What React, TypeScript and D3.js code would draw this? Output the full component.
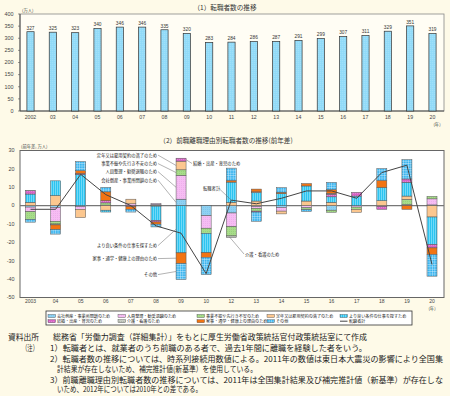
import React from "react";
import * as d3 from "d3";

const years1 = ["2002","03","04","05","06","07","08","09","10","11","12","13","14","15","16","17","18","19","20"];
const transfers = [327,325,323,340,346,346,335,320,283,284,286,287,291,299,307,311,329,351,319];
const yTicks1 = [0,50,100,150,200,250,300,350,400];

const years2 = ["2003","04","05","06","07","08","09","10","12","13","14","15","16","17","18","19","20"];
const bankrupt  = [-0.8,-1,-0.5,0,0,0.6,3.5,-5.5,-4,-0.5,-1,0,-2.5,0,0,0,0.4];
const layoff    = [-2.5,-7.5,-1.5,0.3,1,0.5,13,-6.8,-7.5,-1,-2,-1.2,0,-0.8,-0.5,0.6,3.3];
const business  = [-4.2,-1.5,0,1.2,0,0,3,-2.8,-5,-1.5,0,-1,-1.1,-1.2,0,2.8,1.3];
const retire    = [1.8,5.5,-4.5,-2.5,2.5,-0.3,4.7,0,1.8,2.5,-1.5,2.5,1.8,-1.6,2.7,1.8,-6.2];
const better    = [4.5,8,17,-1,0,-7.8,-25.7,-10.5,11,4.5,6.5,8.2,3,5.2,7.2,7.5,-15];
const marriage  = [1.8,0,0.5,1.2,-0.5,-0.8,1.6,0,0,-0.5,0,0,1.4,2,-1.5,1.8,-1.8];
const care      = [0.2,-0.5,0,0,0,0,0,0,-0.8,0.5,0,0,0.5,0,0,0,0];
const housework = [0,-2.5,1.5,4.8,-1.5,-1.2,-5.8,-2.5,0.9,1.5,0.8,1.3,2,0,3.8,-2,-3.6];
const other     = [-1.5,-2.5,5,2.5,-1.5,-1.5,-8.7,-9.4,6.7,-5,2.5,-1,4,0,6.5,10.5,-11.8];
const totalDiff = [-2,-2,17,6,0,-11,-15,-37,3,1,4,8,8,4,18,22,-32];
const yTicks2 = [30,20,10,0,-10,-20,-30,-40,-50];

const keys = ["bankrupt","layoff","business","retire","better","marriage","care","housework","other"];
const seriesData: Record<string, number[]> = { bankrupt, layoff, business, retire, better, marriage, care, housework, other };
const names: Record<string, string> = {
  bankrupt: "会社倒産・事業所閉鎖のため",
  layoff: "人員整理・勧奨退職のため",
  business: "事業不振や先行き不安のため",
  retire: "定年又は雇用契約の満了のため",
  better: "より良い条件の仕事を探すため",
  marriage: "結婚・出産・育児のため",
  care: "介護・看護のため",
  housework: "家事・通学・健康上の理由のため",
  other: "その他",
};
const lineName = "転職者計";
const fills: Record<string, string> = {
  bankrupt: "url(#pBank)",
  layoff: "url(#pLayoff)",
  business: "url(#pBus)",
  retire: "#fcc78f",
  better: "url(#pBetter)",
  marriage: "url(#pMar)",
  care: "url(#pCare)",
  housework: "#f27413",
  other: "url(#pOther)",
};

const notes = [
  "総務省「労働力調査（詳細集計）」をもとに厚生労働省政策統括官付政策統括室にて作成",
  "1）転職者とは、就業者のうち前職のある者で、過去1年間に離職を経験した者をいう。",
  "2）転職者数の推移については、時系列接続用数値による。2011年の数値は東日本大震災の影響により全国集",
  "計結果が存在しないため、補完推計値(新基準）を使用している。",
  "3）前職離職理由別転職者数の推移については、2011年は全国集計結果及び補完推計値（新基準）が存在しな",
  "いため、2012年については2010年との差である。",
];

const JP = "'Noto Sans CJK JP', 'Noto Sans', sans-serif";
const NUM = "'Liberation Sans', Arial, sans-serif";

export default function App() {
  const W = 450, H = 396;
  // top chart
  const x1 = d3.scalePoint<string>().domain(years1).range([30.5, 432.5]);
  const y1 = d3.scaleLinear().domain([0, 400]).range([111, 14]);
  // bottom chart
  const x2 = d3.scalePoint<string>().domain(years2).range([30.5, 432]);
  const y2 = d3.scaleLinear().domain([-50, 30]).range([297.5, 150.5]);

  const rows = years2.map((y, i) => {
    const r: any = { year: y };
    keys.forEach((k) => (r[k] = seriesData[k][i]));
    return r;
  });
  const stacked = d3.stack<any>().keys(keys).offset(d3.stackOffsetDiverging)(rows);
  const segMid = (key: string, year: string) => {
    const s = stacked.find((ss) => ss.key === key)!;
    const d = s[years2.indexOf(year)];
    return y2((d[0] + d[1]) / 2);
  };
  const bw = 10;
  const lineGen = d3.line<number>().x((_, i) => x2(years2[i])!).y((v) => y2(v));

  const leftAnn = [
    { key: "retire", y: 156.5 },
    { key: "business", y: 165 },
    { key: "layoff", y: 173 },
    { key: "bankrupt", y: 181.5 },
    { key: "better", y: 247 },
    { key: "housework", y: 260 },
    { key: "other", y: 276 },
  ];
  const x09 = x2("09")!;
  const x12 = x2("12")!;
  const i12 = years2.indexOf("12");

  const legendRows = [
    ["bankrupt", "layoff", "business", "retire", "better"],
    ["marriage", "care", "housework", "other", "LINE"],
  ];
  const legendCols = [48, 118, 197, 267, 340];

  return (
    <svg width={W} height={H} style={{ position: "absolute", left: 0, top: 0, background: "#fefae8" }}>
      <defs>
        <pattern id="pTop" width="2" height="2" patternUnits="userSpaceOnUse">
          <rect width="2" height="2" fill="#8fdaf8" />
          <rect x="0.5" y="0.5" width="0.6" height="0.6" fill="#d8f5ff" />
        </pattern>
        <pattern id="pBetter" width="2" height="2" patternUnits="userSpaceOnUse">
          <rect width="2" height="2" fill="#2cc4f0" />
          <rect x="1.2" width="0.5" height="2" fill="#b8efff" />
        </pattern>
        <pattern id="pOther" width="2.4" height="2.4" patternUnits="userSpaceOnUse">
          <rect width="2.4" height="2.4" fill="#3ab4ee" />
          <path d="M0 0.2H2.4M0.2 0V2.4" stroke="#dff6ff" strokeWidth="0.5" />
        </pattern>
        <pattern id="pBank" width="2" height="2" patternUnits="userSpaceOnUse">
          <rect width="2" height="2" fill="#8fd1f2" />
          <rect x="1" y="1" width="0.6" height="0.6" fill="#5fb6e6" />
        </pattern>
        <pattern id="pLayoff" width="2" height="2" patternUnits="userSpaceOnUse">
          <rect width="2" height="2" fill="#f6bdf3" />
          <rect x="1" y="1" width="0.6" height="0.6" fill="#e196e0" />
        </pattern>
        <pattern id="pBus" width="2" height="2" patternUnits="userSpaceOnUse">
          <rect width="2" height="2" fill="#a8dc8a" />
          <rect x="1" y="1" width="0.6" height="0.6" fill="#7cc160" />
        </pattern>
        <pattern id="pMar" width="2" height="2" patternUnits="userSpaceOnUse">
          <rect width="2" height="2" fill="#d763c4" />
          <rect x="1" y="1" width="0.7" height="0.7" fill="#f3a8e8" />
        </pattern>
        <pattern id="pCare" width="2" height="2" patternUnits="userSpaceOnUse">
          <rect width="2" height="2" fill="#c9cdc4" />
          <rect x="1" y="1" width="0.6" height="0.6" fill="#8e968a" />
        </pattern>
      </defs>

      {/* ===== Top chart ===== */}
      <text x={225} y={10} textAnchor="middle" fontFamily={JP} fontSize={6.6} fill="#333">（1）転職者数の推移</text>
      <text x={22} y={12.2} fontFamily={JP} fontSize={4.3} fill="#444">(万人)</text>
      <rect x={20} y={14} width={424} height={97} fill="#fffdf4" stroke="#888" strokeWidth={0.8} />
      <line x1={20} y1={14} x2={20} y2={111} stroke="#444" strokeWidth={0.9} />
      <line x1={20} y1={111} x2={444} y2={111} stroke="#444" strokeWidth={0.9} />
      {yTicks1.map((t) => (
        <g key={t}>
          <line x1={18} x2={20} y1={y1(t)} y2={y1(t)} stroke="#555" strokeWidth={0.6} />
          <text x={13.5} y={y1(t) + 1.8} textAnchor="end" fontFamily={NUM} fontSize={5.4} fill="#444">{t}</text>
        </g>
      ))}
      {years1.map((yr, i) => (
        <g key={yr}>
          <rect x={x1(yr)! - 3.6} y={y1(transfers[i])} width={7.2} height={y1(0) - y1(transfers[i])}
            fill="url(#pTop)" stroke="#333" strokeWidth={0.7} />
          <text x={x1(yr)} y={y1(transfers[i]) - 2.2} textAnchor="middle" fontFamily={NUM} fontSize={4.8} fill="#333">{transfers[i]}</text>
          <text x={x1(yr)} y={118.5} textAnchor="middle" fontFamily={NUM} fontSize={5.2} fill="#444">{yr}</text>
        </g>
      ))}
      <text x={437} y={125.5} textAnchor="middle" fontFamily={JP} fontSize={4.3} fill="#444">(年)</text>

      {/* ===== Bottom chart ===== */}
      <text x={226} y={143} textAnchor="middle" fontFamily={JP} fontSize={6.6} fill="#333">（2）前職離職理由別転職者数の推移(前年差)</text>
      <text x={21} y={148.3} fontFamily={JP} fontSize={4.3} fill="#444">(前年差, 万人)</text>
      <rect x={20} y={150.5} width={424} height={147} fill="#ffffff" stroke="#666" strokeWidth={1} />
      {yTicks2.map((t) => (
        <text key={t} x={14.5} y={y2(t) + 1.8} textAnchor="end" fontFamily={NUM} fontSize={5.4} fill="#444">{t}</text>
      ))}
      <line x1={20} x2={444} y1={y2(0)} y2={y2(0)} stroke="#777" strokeWidth={1.2} />
      {stacked.map((s) =>
        s.map((d, i) => {
          const top = y2(Math.max(d[0], d[1]));
          const h = Math.abs(y2(d[0]) - y2(d[1]));
          if (h < 0.01) return null;
          return (
            <rect key={s.key + i} x={x2(years2[i])! - bw / 2} y={top} width={bw} height={h}
              fill={fills[s.key]} stroke="#555" strokeWidth={0.5} />
          );
        })
      )}
      <path d={lineGen(totalDiff) || ""} fill="none" stroke="#444" strokeWidth={1} />
      {years2.map((yr) => (
        <text key={yr} x={x2(yr)} y={303} textAnchor="middle" fontFamily={NUM} fontSize={5} fill="#444">{yr}</text>
      ))}
      <text x={432} y={309.5} textAnchor="middle" fontFamily={JP} fontSize={4.3} fill="#444">(年)</text>

      {/* annotations */}
      {leftAnn.map((a) => (
        <g key={a.key}>
          <text x={157} y={a.y} textAnchor="end" fontFamily={JP} fontSize={4.3} fill="#222">{names[a.key]}</text>
          <line x1={158} y1={a.y - 1.4} x2={x09 - bw / 2} y2={segMid(a.key, "09")} stroke="#666" strokeWidth={0.5} />
        </g>
      ))}
      <line x1={x09 + bw / 2} y1={segMid("marriage", "09")} x2={192} y2={163.5} stroke="#666" strokeWidth={0.5} />
      <text x={193} y={165} fontFamily={JP} fontSize={4.3} fill="#222">{names.marriage}</text>
      <text x={203} y={190} fontFamily={JP} fontSize={4.3} fill="#222">{lineName}</text>
      <line x1={219} y1={188.5} x2={x12} y2={y2(totalDiff[i12])} stroke="#666" strokeWidth={0.5} />
      <line x1={x12 - 2} y1={segMid("care", "12")} x2={244} y2={254} stroke="#666" strokeWidth={0.5} />
      <text x={245} y={256} fontFamily={JP} fontSize={4.3} fill="#222">{names.care}</text>

      {/* legend */}
      <rect x={46} y={311} width={366} height={14} fill="#ffffff" stroke="#333" strokeWidth={0.8} />
      {legendRows.map((row, ri) =>
        row.map((k, ci) => {
          const lx = legendCols[ci];
          const ly = 316 + ri * 5.2;
          return (
            <g key={k}>
              {k === "LINE" ? (
                <line x1={lx} x2={lx + 7.5} y1={ly} y2={ly} stroke="#444" strokeWidth={1} />
              ) : (
                <rect x={lx} y={ly - 1.5} width={7.5} height={3} fill={fills[k]} stroke="#444" strokeWidth={0.4} />
              )}
              <text x={lx + 9} y={ly + 1.5} fontFamily={JP} fontSize={4.1} fill="#222">{k === "LINE" ? lineName : names[k]}</text>
            </g>
          );
        })
      )}

      {/* notes */}
      <text x={8} y={340} fontFamily={JP} fontSize={8} fill="#222" textLength={31} lengthAdjust="spacingAndGlyphs">資料出所</text>
      <text x={22} y={350.5} fontFamily={JP} fontSize={8} fill="#222" textLength={16} lengthAdjust="spacingAndGlyphs">（注）</text>
      <text x={53} y={340} fontFamily={JP} fontSize={8} fill="#222" textLength={314} lengthAdjust="spacingAndGlyphs">{notes[0]}</text>
      <text x={50} y={350.5} fontFamily={JP} fontSize={8} fill="#222" textLength={317} lengthAdjust="spacingAndGlyphs">{notes[1]}</text>
      <text x={50} y={361.5} fontFamily={JP} fontSize={8} fill="#222" textLength={393} lengthAdjust="spacingAndGlyphs">{notes[2]}</text>
      <text x={57} y={371.5} fontFamily={JP} fontSize={8} fill="#222" textLength={200} lengthAdjust="spacingAndGlyphs">{notes[3]}</text>
      <text x={50} y={382.5} fontFamily={JP} fontSize={8} fill="#222" textLength={393} lengthAdjust="spacingAndGlyphs">{notes[4]}</text>
      <text x={57} y={392} fontFamily={JP} fontSize={8} fill="#222" textLength={145} lengthAdjust="spacingAndGlyphs">{notes[5]}</text>
    </svg>
  );
}
